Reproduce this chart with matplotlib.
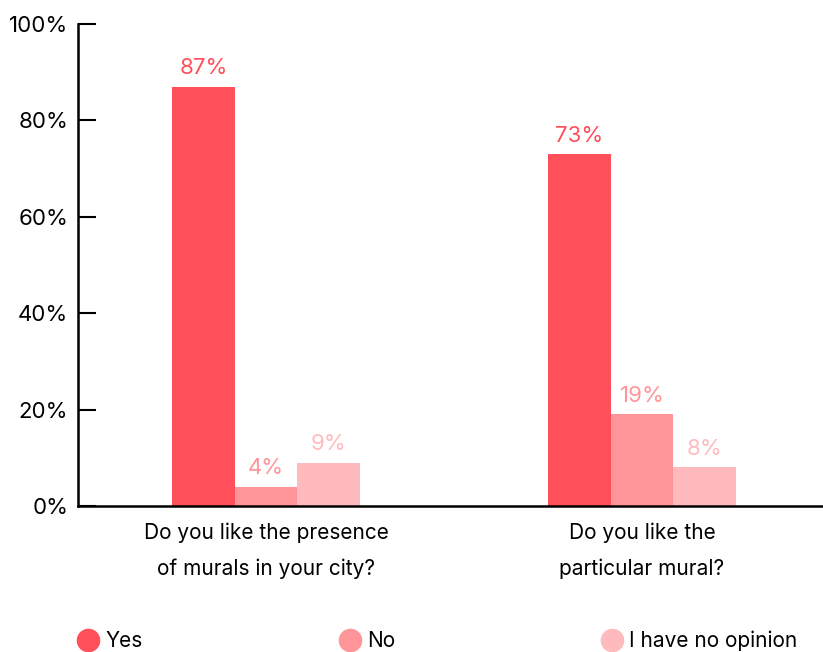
import matplotlib.pyplot as plt
from matplotlib.lines import Line2D
import numpy as np

plt.rcParams['font.family'] = ['Inter', 'DejaVu Sans']

questions = ["Do you like the presence\nof murals in your city?",
             "Do you like the\nparticular mural?"]
answers = ["Yes", "No", "I have no opinion"]
yes_vals = [87, 73]
no_vals = [4, 19]
noop_vals = [9, 8]
colors = ["#FF4F5A", "#FF9599", "#FFBABD"]

fig = plt.figure(figsize=(8.23, 6.52), dpi=100)
ax = fig.add_axes([78/823, 146/652, 745/823, 482/652])

x = np.arange(len(questions))
w = 1/6
series = [yes_vals, no_vals, noop_vals]
for i, vals in enumerate(series):
    bars = ax.bar(x + (i - 1) * w, vals, width=w, color=colors[i])
    for b, v in zip(bars, vals):
        ax.annotate(f"{v}%", (b.get_x() + b.get_width()/2, v),
                    xytext=(0, 6), textcoords="offset points",
                    ha="center", va="bottom", fontsize=16, color=colors[i])

ax.set_xlim(-0.5, (823 - 266) / 376)
ax.set_ylim(0, 100)
ax.set_yticks([0, 20, 40, 60, 80, 100])
ax.set_yticklabels([f"{t}%" for t in range(0, 101, 20)])
ax.set_xticks(x)
ax.set_xticklabels(questions, linespacing=1.95)

ax.tick_params(axis="y", direction="in", length=13, width=1.5, labelsize=16, pad=7)
ax.tick_params(axis="x", length=0, labelsize=15, pad=12)
for s in ["top", "right"]:
    ax.spines[s].set_visible(False)
for s in ["left", "bottom"]:
    ax.spines[s].set_linewidth(1.8)

# legend row along the bottom
leg_x = [88, 350, 612]
for lx, lab, c in zip(leg_x, answers, colors):
    fig.add_artist(Line2D([lx/823], [12/652], marker="o", markersize=16,
                          color=c, linestyle="none", transform=fig.transFigure))
    fig.text((lx + 17)/823, 11/652, lab, fontsize=15, va="center", ha="left")

fig.savefig("out.png", dpi=100)
